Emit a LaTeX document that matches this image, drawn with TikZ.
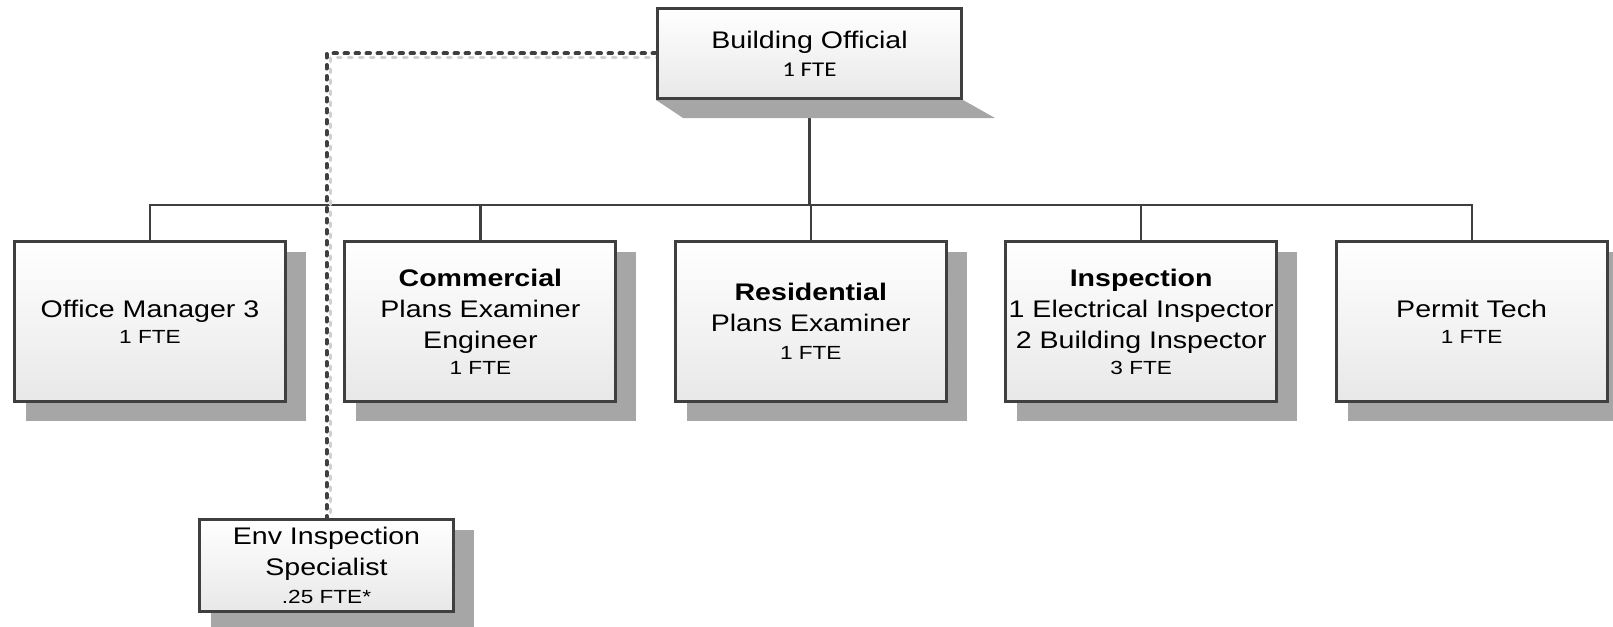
\documentclass[tikz,border=0pt]{standalone}
\usepackage{fontspec}
\setmainfont{Liberation Sans}[FakeStretch=1.19]
\newfontfamily\carlito{Carlito}[FakeStretch=1.19]
\usetikzlibrary{backgrounds}
\definecolor{edgec}{HTML}{3F3F3F}
\definecolor{shadowc}{HTML}{A6A6A6}
\definecolor{dashsh}{HTML}{D0D0D0}
\newcommand{\bigf}{\fontsize{24}{31}\selectfont}
\newcommand{\smallf}{\fontsize{19}{24}\selectfont}
\begin{document}
\begin{tikzpicture}[x=1pt,y=-1pt,
  orgbox/.style={draw=edgec, line width=3pt, top color=white, bottom color=black!9,
    align=center, inner sep=0pt, font=\bigf, text=black},
  childbox/.style={orgbox, minimum width=271pt, minimum height=160pt},
  tree/.style={draw=edgec, line width=2.2pt},
  dashline/.style={draw=edgec, line width=4pt, line cap=round, dash pattern=on 3.5pt off 7.5pt},
  dashshadow/.style={draw=dashsh, line width=3.5pt, line cap=round, dash pattern=on 3.5pt off 7.5pt},
  boxshadow/.style={fill=shadowc, draw=none}]
\useasboundingbox (0,0) rectangle (1613,626);

\node[orgbox, minimum width=304pt, minimum height=90pt] (bo) at (809.5,53.5)
  {Building Official\\[-3pt]{\carlito\fontsize{21}{24}\selectfont 1 FTE}};

\node[childbox] (om) at (150,321.5) {Office Manager 3\\[-5pt]{\smallf 1 FTE}};
\node[childbox] (cpe) at (480.4,321.5)
  {\textbf{Commercial}\\Plans Examiner\\Engineer\\[-5pt]{\smallf 1 FTE}};
\node[childbox] (rpe) at (810.8,321.5)
  {\textbf{Residential}\\Plans Examiner\\[-3pt]{\smallf 1 FTE}};
\node[childbox] (insp) at (1141.2,321.5)
  {\textbf{Inspection}\\1 Electrical Inspector\\2 Building Inspector\\[-5pt]{\smallf 3 FTE}};
\node[childbox] (pt) at (1471.6,321.5) {Permit Tech\\[-5pt]{\smallf 1 FTE}};

\node[orgbox, minimum width=254pt, minimum height=92pt] (env) at (326.5,565.5)
  {Env Inspection\\Specialist\\[-3pt]{\smallf .25 FTE*}};

\coordinate (bus) at (810,205);

\begin{scope}[on background layer]
  % tree connectors
  \draw[tree] (bo.south) -- (bo.south |- bus);
  \draw[tree] (om.north) -- (om.north |- bus) -- (pt.north |- bus) -- (pt.north);
  \foreach \n in {cpe,rpe,insp}
    \draw[tree] (\n.north) -- (\n.north |- bus);
  % dotted link
  \draw[dashshadow] ([shift={(4,4)}]bo.west) -| ([shift={(4,4)}]env.north);
  \draw[dashline] (bo.west) -| (env.north);
  % shadows
  \fill[boxshadow] (bo.south west) -- (bo.south east) -- ([shift={(32,18)}]bo.south east)
     -- ([shift={(27,18)}]bo.south west) -- cycle;
  \foreach \n in {om,cpe,rpe,insp,pt,env}
    \fill[boxshadow] ([shift={(13,18)}]\n.south west) rectangle ([shift={(19,12)}]\n.north east);
\end{scope}
\end{tikzpicture}
\end{document}
